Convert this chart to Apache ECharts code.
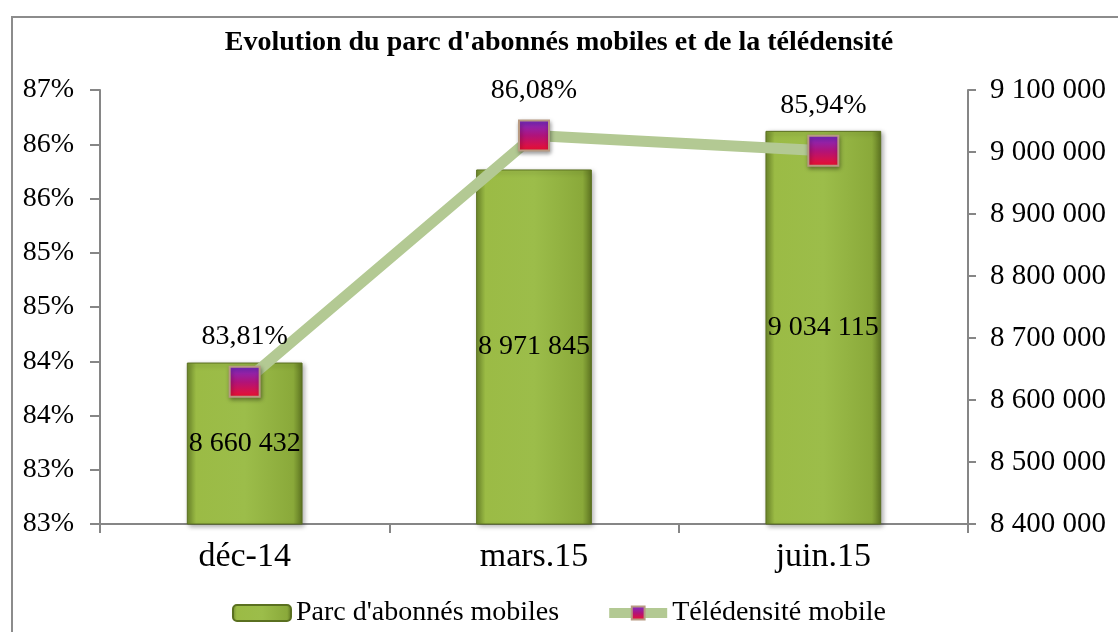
<!DOCTYPE html>
<html>
<head>
<meta charset="utf-8">
<script src="https://cdn.jsdelivr.net/npm/echarts@6/dist/echarts.min.js"></script>
<style>
  html, body { margin: 0; padding: 0; background: #fff; }
  #chart { width: 1118px; height: 632px; }
</style>
</head>
<body>
<div id="chart"></div>
<script>
// data
const categories = ['déc-14', 'mars.15', 'juin.15'];
const abonnes = [8660432, 8971845, 9034115];
const teledensite = [83.81, 86.08, 85.94];

const serif = '"Liberation Serif", "DejaVu Serif", serif';

function spaced(n) {
  return String(Math.round(n)).replace(/\B(?=(\d{3})+(?!\d))/g, ' ');
}

const chart = echarts.init(document.getElementById('chart'));

const barGradient = new echarts.graphic.LinearGradient(0, 0, 1, 0, [
  { offset: 0, color: '#6f8a2c' },
  { offset: 0.08, color: '#9bbb45' },
  { offset: 0.5, color: '#9cbd4a' },
  { offset: 0.92, color: '#8aa93a' },
  { offset: 1, color: '#5d7421' }
]);

const markerGradient = new echarts.graphic.LinearGradient(0, 0, 0, 1, [
  { offset: 0, color: '#7a2fd0' },
  { offset: 0.5, color: '#b0137a' },
  { offset: 1, color: '#f0102a' }
]);

chart.setOption({
  animation: false,
  textStyle: { fontFamily: serif },
  graphic: [{
    type: 'rect',
    shape: { x: 12, y: 17, width: 1200, height: 700 },
    style: { fill: 'none', stroke: '#8c8c8c', lineWidth: 2 },
    silent: true,
    z: -10
  }],
  title: {
    text: "Evolution du parc d'abonnés mobiles et de la télédensité",
    left: 'center',
    top: 24,
    textStyle: { fontFamily: serif, fontSize: 28, fontWeight: 'bold', color: '#000' }
  },
  legend: {
    bottom: 0,
    left: 'center',
    itemWidth: 58,
    itemHeight: 16,
    itemGap: 45,
    textStyle: { fontFamily: serif, fontSize: 28, color: '#000' },
    data: [
      { name: "Parc d'abonnés mobiles" },
      { name: 'Télédensité mobile', lineStyle: { width: 10, color: '#b3c993' } }
    ]
  },
  grid: { left: 100, right: 150, top: 90, bottom: 108 },
  xAxis: {
    type: 'category',
    data: categories,
    axisLine: { lineStyle: { color: '#868686', width: 2 } },
    axisTick: { show: true, length: 9, lineStyle: { color: '#868686', width: 2 } },
    axisLabel: { fontFamily: serif, fontSize: 34, color: '#000', margin: 16 }
  },
  yAxis: [{
    type: 'value',
    min: 82.5,
    max: 86.5,
    interval: 0.5,
    position: 'left',
    splitLine: { show: false },
    axisLine: { show: true, lineStyle: { color: '#868686', width: 2 } },
    axisTick: { show: true, length: 10, lineStyle: { color: '#868686', width: 2 } },
    axisLabel: {
      fontFamily: serif, fontSize: 28, color: '#000', margin: 26,
      formatter: v => Math.round(v) + '%'
    }
  }, {
    type: 'value',
    min: 8400000,
    max: 9100000,
    interval: 100000,
    position: 'right',
    splitLine: { show: false },
    axisLine: { show: true, lineStyle: { color: '#868686', width: 2 } },
    axisTick: { show: true, length: 8, lineStyle: { color: '#868686', width: 2 } },
    axisLabel: {
      fontFamily: serif, fontSize: 29, color: '#000', margin: 22,
      formatter: v => spaced(v)
    }
  }],
  series: [{
    name: "Parc d'abonnés mobiles",
    type: 'bar',
    yAxisIndex: 1,
    barWidth: '40%',
    data: abonnes,
    itemStyle: {
      color: barGradient,
      borderColor: '#5a7020',
      borderWidth: 1,
      shadowColor: 'rgba(0,0,0,0.35)',
      shadowBlur: 5,
      shadowOffsetX: 2,
      shadowOffsetY: 2
    },
    label: {
      show: true,
      position: 'inside',
      fontFamily: serif,
      fontSize: 28,
      color: '#000',
      formatter: p => spaced(p.value)
    },
    z: 2
  }, {
    name: 'Télédensité mobile',
    type: 'line',
    yAxisIndex: 0,
    data: teledensite,
    symbol: 'rect',
    symbolSize: 30,
    lineStyle: { color: '#b3c993', width: 11 },
    itemStyle: {
      color: markerGradient,
      borderColor: '#b89a82',
      borderWidth: 2,
      shadowColor: 'rgba(0,0,0,0.35)',
      shadowBlur: 4,
      shadowOffsetX: 1,
      shadowOffsetY: 2
    },
    label: {
      show: true,
      position: 'top',
      distance: 15,
      fontFamily: serif,
      fontSize: 28,
      color: '#000',
      formatter: p => p.value.toFixed(2).replace('.', ',') + '%'
    },
    z: 3
  }]
});
</script>
</body>
</html>
